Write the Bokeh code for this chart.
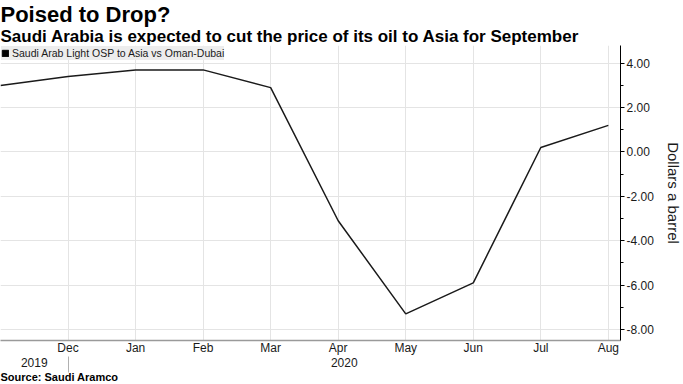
from bokeh.plotting import figure
from bokeh.models import (Range1d, FixedTicker, LinearAxis, Title, Legend, LegendItem,
                          NumeralTickFormatter)
from bokeh.embed import file_html
from bokeh.resources import INLINE

# ---- data ----
months = ["Nov", "Dec", "Jan", "Feb", "Mar", "Apr", "May", "Jun", "Jul", "Aug"]
osp_spread = [3.0, 3.4, 3.7, 3.7, 2.9, -3.1, -7.3, -5.9, 0.2, 1.2]
y_ticks = [-8, -6, -4, -2, 0, 2, 4]
y_minor = [-7, -5, -3, -1, 1, 3]
year_labels = ["2019", "2020"]
series_name = "Saudi Arab Light OSP to Asia vs Oman-Dubai"

x = list(range(len(months)))
month_ticks = x[1:]

X_END = 9.18
year_pos = [0.5, round((1 + X_END) / 2, 2)]
year_sep = [1]

FONT = "Liberation Sans"
TXT = "#1a1a1a"

p = figure(frame_width=620, frame_height=295,
           x_range=Range1d(0, X_END), y_range=Range1d(-8.5, 4.8),
           output_backend="svg", toolbar_location=None, title=None,
           y_axis_location="right",
           min_border_left=0, min_border_right=0, min_border_top=0, min_border_bottom=0)
p.outline_line_color = None
p.background_fill_color = "white"

# line
p.line(x, osp_spread, line_color="#1a1a1a", line_width=1.5)

# legend swatch: hidden quad renderer, only used for the legend's square icon
sw = p.quad(left=x[:1], right=x[1:2], top=osp_spread[:1], bottom=osp_spread[1:2],
            fill_color="black", line_color="black", visible=False)
legend = Legend(items=[LegendItem(label=series_name, renderers=[sw])],
                location="top_left", margin=1, padding=3, spacing=0,
                glyph_width=8, glyph_height=8, label_standoff=3, label_height=14,
                label_width=200,
                label_text_font_size="10.5px", label_text_font=FONT, label_text_color=TXT,
                background_fill_color="#ececec", background_fill_alpha=0.95,
                border_line_color=None, inactive_fill_alpha=0.0,
                click_policy="none")
p.add_layout(legend)

# grids
p.xgrid.ticker = FixedTicker(ticks=month_ticks)
p.ygrid.ticker = FixedTicker(ticks=y_ticks)
p.xgrid.grid_line_color = "#e4e4e4"
p.ygrid.grid_line_color = "#e4e4e4"

# x axis (months)
xa = p.xaxis[0]
xa.ticker = FixedTicker(ticks=month_ticks)
xa.major_label_overrides = {m: months[m] for m in month_ticks}
xa.axis_line_color = "#9a9a9a"
xa.axis_line_width = 1.5
xa.major_tick_in = 0
xa.major_tick_out = 0
xa.minor_tick_line_color = None
xa.major_label_standoff = 0
xa.major_label_text_font = FONT
xa.major_label_text_font_size = "12px"
xa.major_label_text_color = TXT

# year axis
ya2 = LinearAxis(ticker=FixedTicker(ticks=year_pos, minor_ticks=year_sep),
                 major_label_overrides={year_pos[i]: year_labels[i] for i in range(2)},
                 axis_line_color=None, major_tick_line_color=None,
                 minor_tick_in=1, minor_tick_out=15, minor_tick_line_color="#b0b0b0",
                 major_label_standoff=-15, major_label_text_font=FONT,
                 major_label_text_font_size="12px", major_label_text_color=TXT)
p.add_layout(ya2, "below")

# right y axis
ya = p.yaxis[0]
ya.ticker = FixedTicker(ticks=y_ticks, minor_ticks=y_minor)
ya.formatter = NumeralTickFormatter(format="0.00")
ya.axis_line_color = "black"
ya.major_tick_in = 0
ya.major_tick_out = 4
ya.minor_tick_in = 0
ya.minor_tick_out = 3
ya.major_tick_line_color = "black"
ya.minor_tick_line_color = "black"
ya.major_label_standoff = 2
ya.major_label_text_font = FONT
ya.major_label_text_font_size = "12px"
ya.major_label_text_color = TXT
ya.axis_label = "Dollars a barrel"
ya.axis_label_text_font = FONT
ya.axis_label_text_font_size = "15px"
ya.axis_label_text_font_style = "normal"
ya.axis_label_text_color = TXT
ya.axis_label_standoff = 8

# titles
sub = Title(text="Saudi Arabia is expected to cut the price of its oil to Asia for September",
            align="left", text_font=FONT, text_font_size="17px", text_font_style="bold",
            text_color="black", standoff=-1, offset=0)
p.add_layout(sub, "above")
main = Title(text="Poised to Drop?", align="left", text_font=FONT, text_font_size="22px",
             text_font_style="bold", text_color="black", standoff=-2, offset=0)
p.add_layout(main, "above")

src = Title(text="Source: Saudi Aramco", align="left", text_font=FONT, text_font_size="11px",
            text_font_style="bold", text_color="black", standoff=-2, offset=0)
p.add_layout(src, "below")

open("out.html", "w").write(file_html(p, INLINE))
